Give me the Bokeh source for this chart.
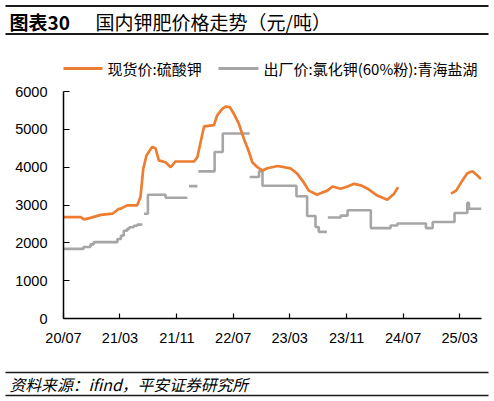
import numpy as np
import pandas as pd
from bokeh.plotting import figure
from bokeh.layouts import column
from bokeh.models import Range1d, FixedTicker, DatetimeTickFormatter, ColumnDataSource
from bokeh.core.properties import value
from bokeh.embed import file_html
from bokeh.resources import INLINE

# ---------------- data ----------------
title_tag = "图表30"
title_text = "国内钾肥价格走势（元/吨）"
series_names = ["现货价:硫酸钾", "出厂价:氯化钾(60%粉):青海盐湖"]
source_text = "资料来源：ifind，平安证券研究所"

tick_dates = ["2020-07-01", "2021-03-01", "2021-11-01", "2022-07-01",
              "2023-03-01", "2023-11-01", "2024-07-01", "2025-03-01"]
y_ticks = [0, 1000, 2000, 3000, 4000, 5000, 6000]

# spot price: potassium sulfate (NaN = missing data)
spot_dates = ["2020-07-01", "2020-09-13", "2020-09-27", "2020-10-25", "2020-12-08",
              "2021-01-28", "2021-02-24", "2021-03-03", "2021-04-01", "2021-05-14",
              "2021-05-28", "2021-06-09", "2021-06-23", "2021-07-17", "2021-08-01",
              "2021-08-15", "2021-09-13", "2021-10-05", "2021-10-26", "2022-01-14",
              "2022-01-28", "2022-02-12", "2022-02-26", "2022-04-09", "2022-04-23",
              "2022-05-15", "2022-05-29", "2022-06-16", "2022-07-04", "2022-07-25",
              "2022-08-16", "2022-09-07", "2022-09-21", "2022-10-13", "2022-11-04",
              "2022-11-25", "2023-01-08", "2023-03-04", "2023-04-02", "2023-05-01",
              "2023-05-22", "2023-06-27", "2023-07-11", "2023-08-10", "2023-09-01",
              "2023-10-06", "2023-11-05", "2023-12-03", "2024-01-01", "2024-01-30",
              "2024-03-12", "2024-04-24", "2024-05-23", "2024-06-09",
              "2024-09-15",
              "2025-01-23", "2025-02-14", "2025-03-13", "2025-04-03", "2025-04-25",
              "2025-05-16", "2025-06-01"]
spot_vals = [2680, 2680, 2620, 2660, 2740,
             2770, 2900, 2900, 2990, 2990,
             3210, 3950, 4310, 4530, 4500,
             4180, 4130, 4000, 4150, 4150,
             4270, 4700, 5080, 5110, 5370,
             5540, 5600, 5590, 5410, 5150,
             4750, 4400, 4130, 4000, 3910,
             3970, 4030, 3970, 3830, 3590,
             3380, 3270, 3310, 3380, 3490,
             3430, 3490, 3560, 3520, 3430,
             3250, 3140, 3300, 3470,
             np.nan,
             3300, 3380, 3650, 3840, 3890,
             3780, 3690]

# ex-factory price: KCl (60% powder), Qinghai Salt Lake -- step levels
# each entry = date a level starts; None = series interrupted from that date
gray_dates = ["2020-07-01", "2020-09-25", "2020-10-25", "2020-11-08", "2021-02-18",
              "2021-03-05", "2021-03-17", "2021-04-01", "2021-04-10", "2021-04-29",
              "2021-05-14", "2021-06-05",
              "2021-06-12", "2021-06-29", "2021-09-13", "2021-12-16",
              "2021-12-23", "2022-01-28",
              "2022-02-01", "2022-04-12", "2022-05-17", "2022-09-10",
              "2022-09-10", "2022-10-20", "2022-11-04", "2023-03-30", "2023-05-15",
              "2023-06-20", "2023-07-04", "2023-08-08",
              "2023-08-12", "2023-10-06", "2023-11-05", "2024-02-13", "2024-05-08",
              "2024-06-06", "2024-10-07", "2024-11-05", "2025-02-07", "2025-04-03",
              "2025-04-10", "2025-06-03"]
gray_vals = [1840, 1890, 1960, 2020, 2100,
             2190, 2320, 2370, 2410, 2450,
             2480, None,
             2770, 3270, 3190, None,
             3500, None,
             3890, 4400, 4890, None,
             3740, 3890, 3510, 3230, 2710,
             2420, 2290, None,
             2670, 2720, 2860, 2390, 2460,
             2510, 2390, 2550, 2790, 3060,
             2900, None]

orange = "#ED7D31"
gray = "#A6A6A6"
ink = "#1a1a1a"
CJK = "Noto Sans CJK SC"

# ---------------- build step path from level data ----------------
gd = pd.to_datetime(gray_dates)
gx, gy = [], []
for i in range(len(gd) - 1):
    v = gray_vals[i]
    if v is None:
        gx.append(gd[i]); gy.append(np.nan)
        continue
    gx += [gd[i], gd[i + 1]]
    gy += [v, v]

spot_src = ColumnDataSource(dict(x=pd.to_datetime(spot_dates), y=spot_vals))
gray_src = ColumnDataSource(dict(x=gx, y=gy))

W = 494
H_HEAD, H_MAIN, H_FOOT = 78, 272, 51


def blank(height, y0):
    """figure whose frame is the whole canvas, data units = page pixels (y down)"""
    f = figure(width=W, height=height, output_backend="svg", toolbar_location=None,
               x_axis_location=None, y_axis_location=None, min_border=0,
               x_range=Range1d(0, W), y_range=Range1d(y0 + height, y0),
               frame_align=False)
    f.outline_line_color = None
    f.xgrid.visible = False
    f.ygrid.visible = False
    f.border_fill_color = "white"
    f.background_fill_color = "white"
    return f


# ---------------- header ----------------
head = blank(H_HEAD, 0)
head.segment(x0=[5, 5], y0=[5.5, 33.5], x1=[488, 488], y1=[5.5, 33.5],
             line_color=ink, line_width=2)
head.text(x=[9], y=[21], text=[title_tag], text_font=value(CJK),
          text_font_size="19px", text_font_style="bold", text_baseline="middle",
          text_color="black")
head.text(x=[95], y=[21], text=[title_text], text_font=value(CJK),
          text_font_size="19px", text_baseline="middle", text_color="black")
# legend
head.segment(x0=[63, 218], y0=[68, 68], x1=[102, 258], y1=[68, 68],
             line_color=[orange, gray], line_width=3)
head.text(x=[107, 263], y=[68, 68], text=series_names, text_font=value(CJK),
          text_font_size="15px", text_baseline="middle", text_color="black")

# ---------------- main chart ----------------
p = figure(width=W, height=H_MAIN, x_axis_type="datetime", output_backend="svg",
           toolbar_location=None, min_border_left=63, min_border_right=13,
           min_border_top=13, min_border_bottom=32, frame_align=False,
           x_range=Range1d(pd.Timestamp("2020-07-01"), pd.Timestamp("2025-06-03")),
           y_range=Range1d(0, 6000))
p.outline_line_color = None
p.xgrid.visible = False
p.ygrid.visible = False

p.line("x", "y", source=gray_src, line_color=gray, line_width=2.6)
p.line("x", "y", source=spot_src, line_color=orange, line_width=2.7)

p.xaxis.ticker = FixedTicker(ticks=[pd.Timestamp(d).value // 10**6 for d in tick_dates])
fmt = "%y/%m"
p.xaxis.formatter = DatetimeTickFormatter(days=fmt, months=fmt, years=fmt, hours=fmt,
                                          minutes=fmt, seconds=fmt)
p.yaxis.ticker = FixedTicker(ticks=y_ticks)

for ax in (p.xaxis[0], p.yaxis[0]):
    ax.axis_line_color = "black"
    ax.axis_line_width = 1.5
    ax.major_tick_line_color = "black"
    ax.major_tick_line_width = 1.2
    ax.major_tick_out = 0
    ax.minor_tick_in = 0
    ax.minor_tick_out = 0
    ax.major_label_text_font = "Liberation Sans"
    ax.major_label_text_font_size = "14.5px"
    ax.major_label_text_color = "black"
p.xaxis.major_tick_in = 5
p.yaxis.major_tick_in = 6
p.xaxis.major_label_standoff = 11
p.yaxis.major_label_standoff = 16

# ---------------- footer ----------------
y_foot = H_HEAD + H_MAIN
foot = blank(H_FOOT, y_foot)
foot.segment(x0=[5, 5], y0=[372, 395], x1=[488, 488], y1=[372, 395],
             line_color=ink, line_width=1.6)
foot.text(x=[9], y=[384], text=[source_text], text_font=value(CJK),
          text_font_size="15.8px", text_font_style="italic", text_baseline="middle",
          text_color="black")

layout = column(head, p, foot, spacing=0)
open("out.html", "w").write(file_html(layout, INLINE))
